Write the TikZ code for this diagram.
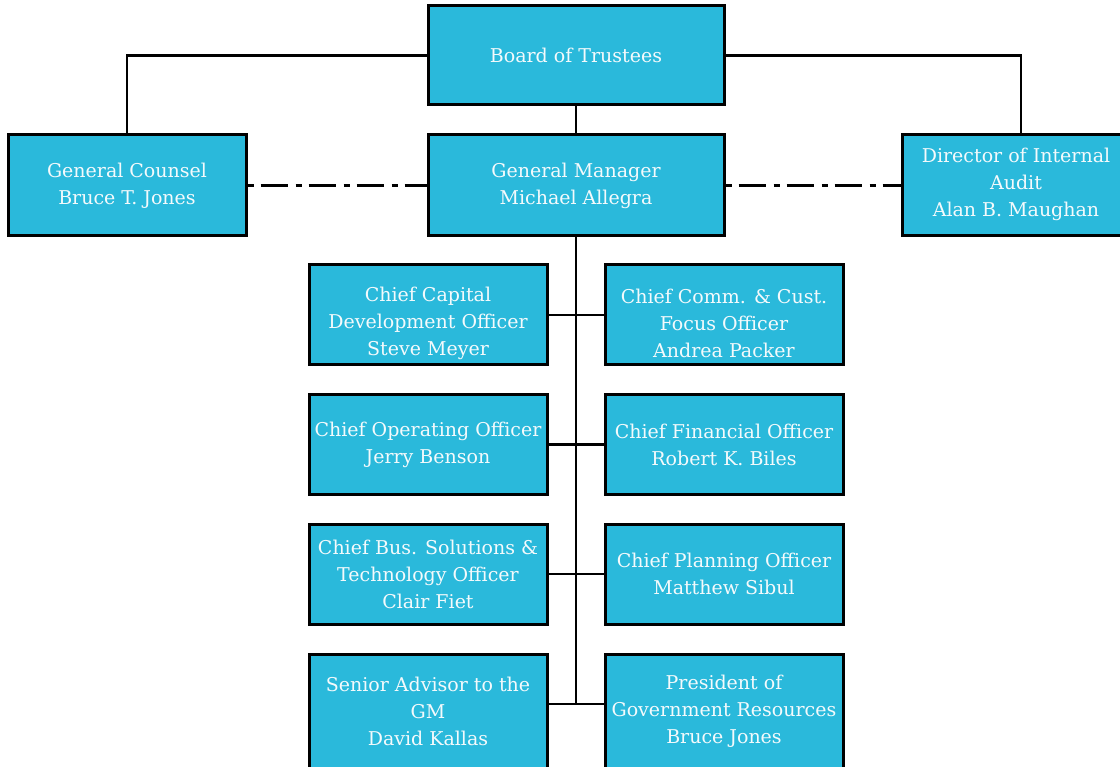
\documentclass[tikz,border=0pt]{standalone}
\usepackage{fontspec}
\setmainfont{DejaVu Serif}
\begin{document}
\begin{tikzpicture}[x=1pt,y=-1pt,
  box/.style={draw=black, line width=3.0pt, fill=boxc, rectangle, inner sep=0pt,
    minimum width=238pt, text=txtc, align=center,
    font=\fontsize{19}{27}\selectfont},
  wide/.style={box, minimum width=296pt},
  txt/.style={text=txtc, align=center, inner sep=0pt, font=\fontsize{19}{27}\selectfont},
  conn/.style={line width=2.6pt, black},
  dotted link/.style={conn, dash pattern=on 6pt off 7pt on 27pt off 8pt}]
\definecolor{boxc}{HTML}{2AB9DB}
\definecolor{txtc}{HTML}{F4FAFC}
\useasboundingbox (0,0) rectangle (1120,767);
\clip (0,0) rectangle (1120,767);
\fill[white] (0,0) rectangle (1120,767);

% top level
\node[wide, minimum height=99pt] (board) at (576,55.5) {Board of Trustees};
\node[box, minimum height=101pt] (gc) at (127,185.5) {General Counsel\\Bruce T. Jones};
\node[wide, minimum height=101pt] (gm) at (576,185.5) {General Manager\\Michael Allegra};
\node[box, minimum height=101pt] (dia) at (1021,185.5) {};
\node[txt] (diat) at (1016,184) {Director of Internal\\Audit\\Alan B. Maughan};

% left column
\node[box, minimum height=100pt] (l1) at (428,315) {};
\node[txt] (l1t) at (428,323) {Chief Capital\\Development Officer\\Steve Meyer};
\node[box, minimum height=99pt] (l2) at (428,444.5) {Chief Operating Officer\\Jerry Benson};
\node[box, minimum height=100pt] (l3) at (428,574) {Chief Bus. Solutions \&\\Technology Officer\\Clair Fiet};
\node[box, minimum height=115pt] (l4) at (428,711.5) {Senior Advisor to the\\GM\\David Kallas};

% right column
\node[box, minimum height=100pt] (r1) at (724,315) {};
\node[txt] (r1t) at (724,323) {Chief Comm. \& Cust.\\Focus Officer\\Andrea Packer};
\node[box, minimum height=99pt] (r2) at (724,444.5) {Chief Financial Officer\\Robert K. Biles};
\node[box, minimum height=100pt] (r3) at (724,574) {Chief Planning Officer\\Matthew Sibul};
\node[box, minimum height=115pt] (r4) at (724,711.5) {President of\\Government Resources\\Bruce Jones};

% connectors
\coordinate (trunkend) at (576,704);
\draw[conn] (board.south) -- (gm.north);
\draw[conn] (board.west) -| (gc.north);
\draw[conn] (board.east) -| (dia.north);
\draw[conn] (gm.south) -- (trunkend);
\draw[conn] (l1.east) -- (r1.west);
\draw[conn] (l2.east) -- (r2.west);
\draw[conn] (l3.east) -- (r3.west);
\draw[conn] (l4.east |- trunkend) -- (r4.west |- trunkend);
\draw[dotted link] (gc.east) -- (gm.west);
\draw[dotted link] (gm.east) -- (dia.west);
\end{tikzpicture}
\end{document}
